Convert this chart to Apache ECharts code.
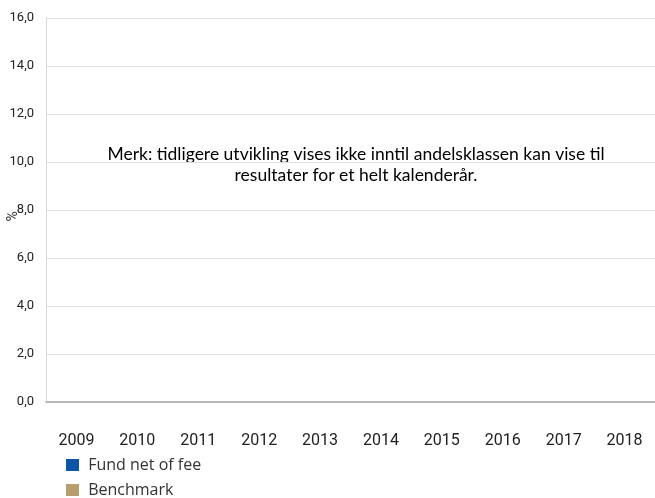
<!DOCTYPE html>
<html>
<head>
<meta charset="utf-8">
<script src="https://cdn.jsdelivr.net/npm/echarts@6/dist/echarts.min.js"></script>
<style>
  html, body { margin: 0; padding: 0; background: #fff; }
  #chart { width: 655px; height: 498px; }
</style>
</head>
<body>
<div id="chart"></div>
<script>
const years = ["2009", "2010", "2011", "2012", "2013", "2014", "2015", "2016", "2017", "2018"];
// no published returns yet - both series are empty
const fundNetOfFee = [];
const benchmark = [];
const yTicks = [0, 2, 4, 6, 8, 10, 12, 14, 16];

const chart = echarts.init(document.getElementById("chart"));

const option = {
    animation: false,
    grid: { left: 46, right: 0, top: 18, bottom: 96 },
    graphic: [
        {
            type: "text",
            x: 356,
            y: 144,
            style: {
                text: "Merk: tidligere utvikling vises ikke inntil andelsklassen kan vise til\nresultater for et helt kalenderår.",
                align: "center",
                verticalAlign: "top",
                fontFamily: "Lato",
                fontSize: 17.5,
                lineHeight: 21,
                fill: "#000",
            },
        },
        {
            type: "text",
            x: 16,
            y: 211,
            rotation: -Math.PI / 2,
            style: { text: "%", fontFamily: "Roboto", fontSize: 14, fill: "#333" },
        },
    ],
    legend: {
        orient: "vertical",
        left: 66,
        top: 457,
        padding: 0,
        itemWidth: 13,
        itemHeight: 12,
        itemGap: 9,
        icon: "rect",
        formatter: (name) => " " + name,
        textStyle: { fontFamily: "Open Sans", fontSize: 16, lineHeight: 16, color: "#333" },
        data: ["Fund net of fee", "Benchmark"],
    },
    xAxis: {
        type: "category",
        data: years,
        axisTick: { show: false },
        axisLine: { lineStyle: { color: "#a6a6a6", width: 1.5 } },
        axisLabel: { margin: 31, fontFamily: "Roboto", fontSize: 16, color: "#222" },
    },
    yAxis: {
        type: "value",
        min: yTicks[0],
        max: yTicks[yTicks.length - 1],
        interval: 2,
        axisLine: { show: true, lineStyle: { color: "#d9d9d9" } },
        axisTick: { show: false },
        splitLine: { lineStyle: { color: "#e0e0e0" } },
        axisLabel: {
            margin: 12,
            fontFamily: "Roboto",
            fontSize: 13,
            color: "#222",
            formatter: (v) => v.toFixed(1).replace(".", ","),
        },
    },
    series: [
        { name: "Fund net of fee", type: "bar", data: fundNetOfFee, itemStyle: { color: "#0e56a5" } },
        { name: "Benchmark", type: "bar", data: benchmark, itemStyle: { color: "#b89d6f" } },
    ],
};

chart.setOption(option);
</script>
</body>
</html>
